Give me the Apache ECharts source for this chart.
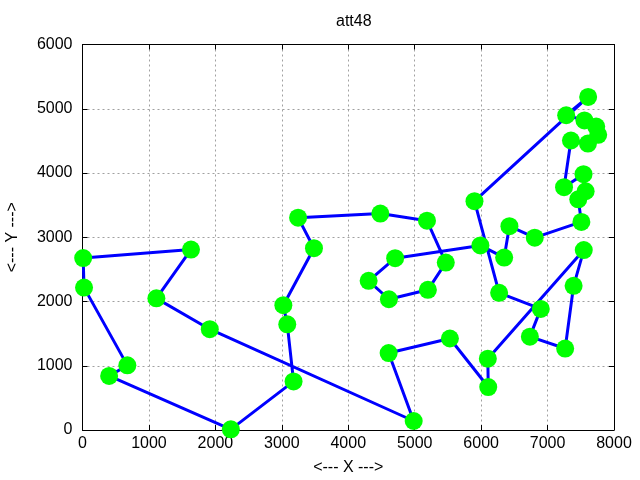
<!DOCTYPE html>
<html>
<head>
<meta charset="utf-8">
<script src="https://cdn.jsdelivr.net/npm/echarts@6/dist/echarts.min.js"></script>
<style>html,body{margin:0;padding:0;background:#fff}#c{width:640px;height:480px}</style>
</head>
<body>
<div id="c"></div>
<script>
// att48 city coordinates (city n is index n-1)
var cityX = [6734,2233,5530,401,3082,7608,7573,7265,6898,1112,5468,5989,4706,4612,6347,6107,7611,7462,7732,5900,4483,6101,5199,1633,4307,675,7555,7541,3177,7352,7545,3245,6426,4608,23,7248,7762,7392,3484,6271,4985,1916,7280,7509,10,6807,5185,3023];
var cityY = [1453,10,1424,841,1644,4458,3716,1268,1885,2049,2606,2873,2674,2035,2683,669,5184,3590,4723,3561,3369,1110,2182,2809,2322,1006,4819,3981,756,4506,2801,3305,3173,1198,2216,3779,4595,2244,2829,2135,140,1569,4899,3239,2676,2993,3258,1942];
// tour order (1-based city numbers)
var tour = [45,24,10,42,41,34,3,16,22,31,38,8,1,9,40,20,17,43,27,19,37,6,30,36,28,7,18,44,46,33,15,12,13,25,14,23,11,47,21,32,39,48,5,29,2,4,26,35];
var xTicks = [0,1000,2000,3000,4000,5000,6000,7000,8000];
var yTicks = [0,1000,2000,3000,4000,5000,6000];
var titleText = 'att48';
var xName = '<--- X --->';
var yName = '<--- Y --->';

var pts = [];
for (var i = 0; i < cityX.length; i++) pts.push([cityX[i], cityY[i]]);
var path = tour.map(function (c) { return [cityX[c - 1], cityY[c - 1]]; });
path.push(path[0]);

var FONT = 'Liberation Sans';
var FS = 16;
function baseAxis(vals, pos, main) {
  return {
    type: 'value', position: pos,
    min: vals[0], max: vals[vals.length - 1], interval: vals[1] - vals[0],
    axisLine: { show: true, onZero: false, lineStyle: { color: '#000', width: 1 } },
    axisTick: { show: true, inside: true, length: 5, lineStyle: { color: '#000', width: 1 } },
    axisLabel: { show: main, color: '#000', fontFamily: FONT, fontSize: FS,
      formatter: function (v) { return String(v); } },
    splitLine: { show: main, lineStyle: { color: '#a0a0a0', width: 1, type: [2, 3] } }
  };
}
var xa0 = baseAxis(xTicks, 'bottom', true);
xa0.axisLabel.margin = 6;
xa0.name = xName; xa0.nameLocation = 'middle'; xa0.nameGap = 30;
xa0.nameTextStyle = { color: '#000', fontFamily: FONT, fontSize: FS };
var xa1 = baseAxis(xTicks, 'top', false);
var ya0 = baseAxis(yTicks, 'left', true);
ya0.axisLabel.margin = 10;
ya0.name = yName; ya0.nameLocation = 'middle'; ya0.nameGap = 62; ya0.nameRotate = 90;
ya0.nameTextStyle = { color: '#000', fontFamily: FONT, fontSize: FS };
var ya1 = baseAxis(yTicks, 'right', false);

var chart = echarts.init(document.getElementById('c'), null, { renderer: 'canvas' });
chart.setOption({
  animation: false,
  backgroundColor: '#fff',
  title: { text: titleText, left: 331, top: 9, textStyle: { color: '#000', fontFamily: FONT, fontSize: FS, fontWeight: 'normal' } },
  grid: { left: 82.5, right: 26, top: 44.5, bottom: 50, containLabel: false, outerBoundsMode: 'none' },
  xAxis: [xa0, xa1],
  yAxis: [ya0, ya1],
  series: [
    { type: 'line', data: path, showSymbol: false, symbol: 'none', z: 2,
      lineStyle: { color: '#0000ff', width: 3 }, xAxisIndex: 0, yAxisIndex: 0 },
    { type: 'scatter', data: pts, symbol: 'circle', symbolSize: 18, z: 3,
      itemStyle: { color: '#00ff00', opacity: 1 }, xAxisIndex: 0, yAxisIndex: 0 }
  ]
});
</script>
</body>
</html>
